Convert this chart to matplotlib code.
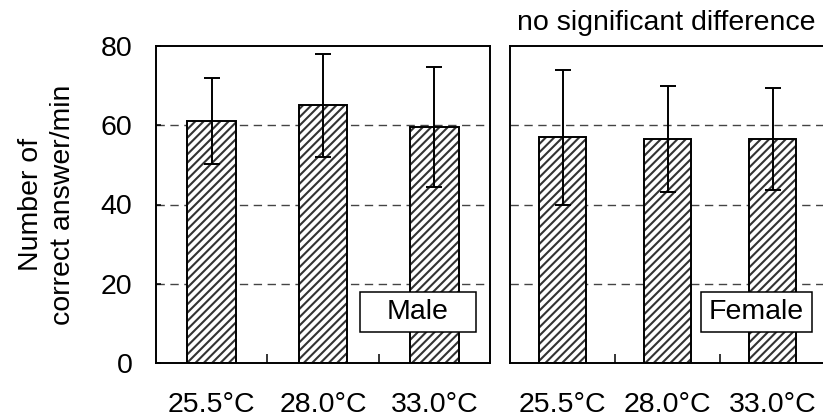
import matplotlib
matplotlib.use("Agg")
import matplotlib.pyplot as plt
from matplotlib.patches import Rectangle
from matplotlib.ticker import FixedLocator

# data
categories = ['25.5°C', '28.0°C', '33.0°C']
male_mean = [61.0, 65.0, 59.5]
male_sd = [10.8, 13.0, 15.1]
female_mean = [57.0, 56.5, 56.5]
female_sd = [17.0, 13.3, 12.9]
y_ticks = [0, 20, 40, 60, 80]

# settings
FS = 20.5
plt.rcParams['font.family'] = ['Liberation Sans', 'DejaVu Sans']
plt.rcParams['hatch.linewidth'] = 1.5
plt.rcParams['hatch.color'] = '#333333'


def draw_panel(ax, means, sds, label, box_x, box_w, show_y):
    x = list(range(len(categories)))
    # gridlines behind bars
    for yv in y_ticks[1:-1]:
        ax.axhline(yv, color='#444444', lw=1.0, ls=(0, (6, 4)), zorder=0)
    ax.bar(x, means, width=0.44, color='white', edgecolor='#333333',
           hatch='////', lw=0, zorder=2)
    ax.bar(x, means, width=0.44, fill=False, edgecolor='black', lw=1.4, zorder=3)
    ax.errorbar(x, means, yerr=sds, fmt='none', ecolor='black', elinewidth=1.4,
                capsize=5.5, capthick=1.4, zorder=4)

    ax.set_xlim(-0.5, 2.5)
    ax.set_ylim(0, 80)
    ax.set_xticks(x)
    ax.set_xticklabels(categories, fontsize=FS)
    ax.xaxis.set_minor_locator(FixedLocator([0.5, 1.5]))
    ax.tick_params(axis='x', which='major', length=0, pad=21)
    ax.tick_params(axis='x', which='minor', direction='in', length=6.5, width=1.1)
    ax.set_yticks(y_ticks)
    if show_y:
        ax.tick_params(axis='y', direction='in', length=3.5, width=1.1,
                       labelsize=FS, pad=17)
    else:
        ax.tick_params(axis='y', length=0, labelleft=False)
    for sp in ax.spines.values():
        sp.set_linewidth(1.4)
        sp.set_color('black')

    # sex label box
    ax.add_patch(Rectangle((box_x, 0.098), box_w, 0.126, transform=ax.transAxes,
                           facecolor='white', edgecolor='black', lw=1.1, zorder=5))
    ax.text(box_x + box_w / 2, 0.098 + 0.063, label, transform=ax.transAxes,
            ha='center', va='center', fontsize=FS, zorder=6)


def main():
    fig = plt.figure(figsize=(8.23, 4.20), dpi=100)
    ax1 = fig.add_axes([156 / 823, 57 / 420, 334 / 823, 317 / 420])
    ax2 = fig.add_axes([510 / 823, 57 / 420, 315 / 823, 317 / 420])

    draw_panel(ax1, male_mean, male_sd, 'Male', 0.611, 0.347, True)
    draw_panel(ax2, female_mean, female_sd, 'Female', 0.605, 0.353, False)

    ax1.set_ylabel('Number of\ncorrect answer/min', fontsize=FS, labelpad=18,
                   linespacing=1.3)
    fig.text(666 / 823, (420 - 30) / 420, 'no significant difference',
             ha='center', va='baseline', fontsize=FS)

    fig.savefig('out.png', dpi=100)


if __name__ == "__main__":
    main()
